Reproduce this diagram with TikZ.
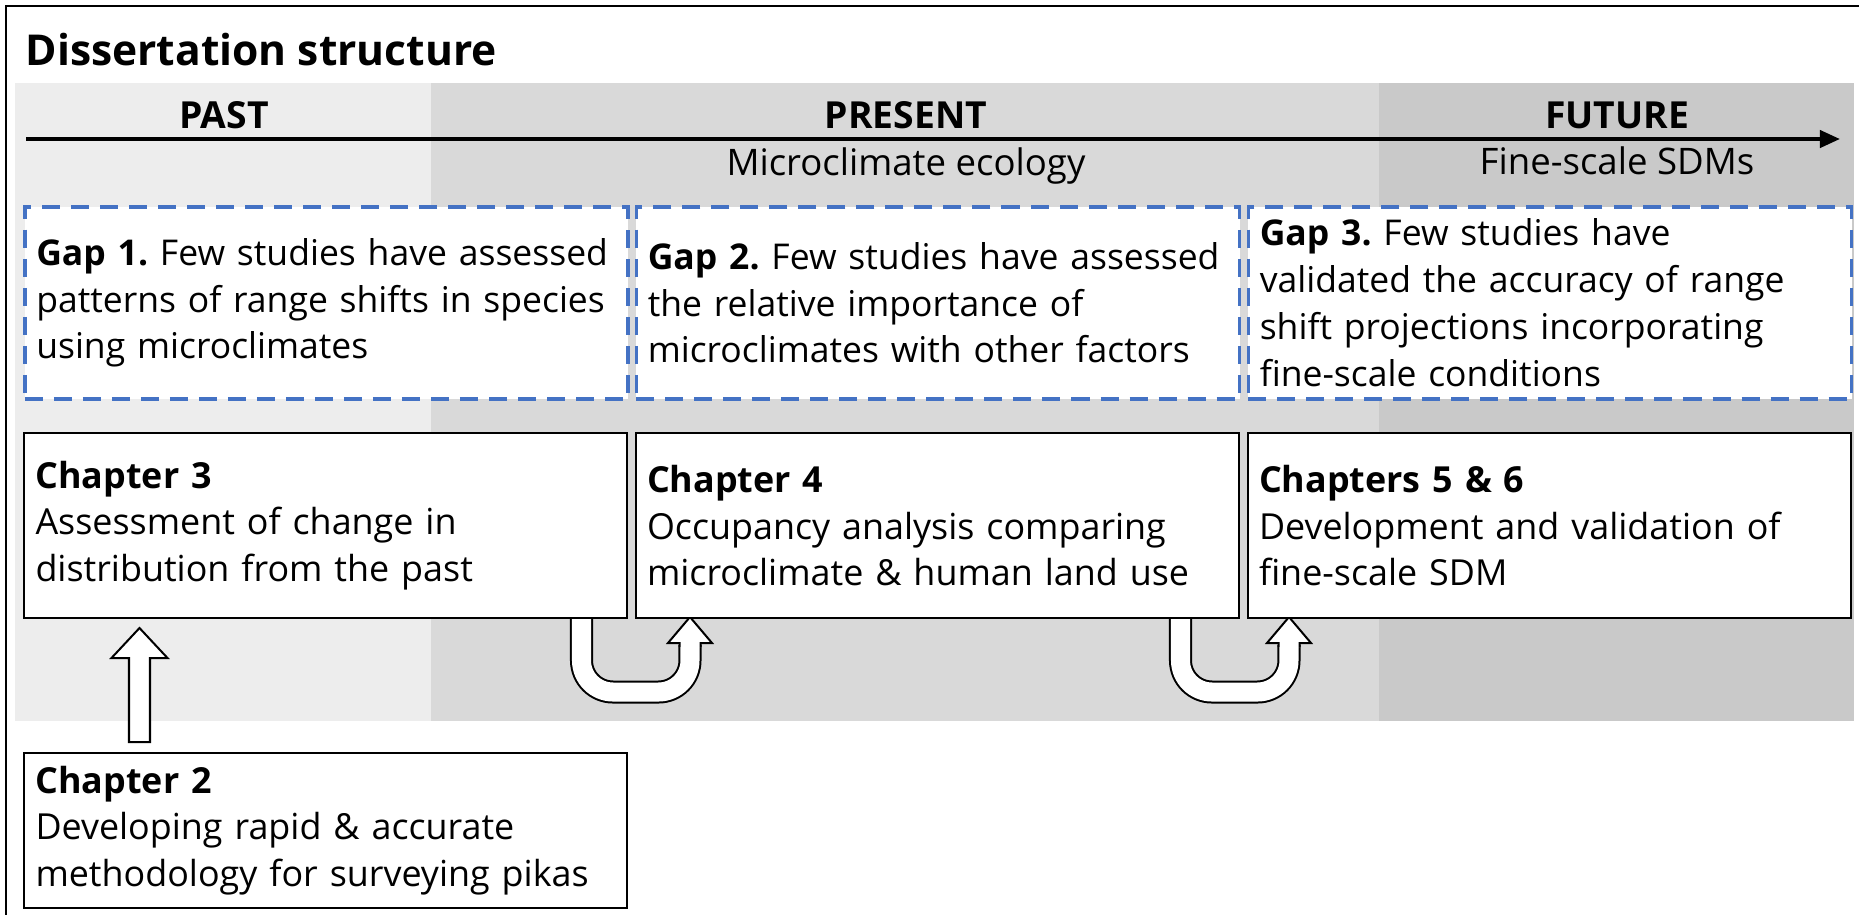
\documentclass[tikz,border=0pt]{standalone}
\usepackage{fontspec}
\setmainfont{Open Sans}
\usetikzlibrary{calc,arrows.meta}
\definecolor{pastgray}{HTML}{EDEDED}
\definecolor{presentgray}{HTML}{D9D9D9}
\definecolor{futuregray}{HTML}{C9C9C9}
\definecolor{gapblue}{HTML}{4472C4}
\frenchspacing

\begin{document}
\begin{tikzpicture}[x=0.01cm, y=-0.01cm]
    \tikzstyle{gapbox}=[draw=gapblue, line width=0.035cm, dash pattern=on 0.18cm off 0.11cm, fill=white, anchor=north west, text width=5.8cm, inner xsep=0.115cm, inner ysep=0pt, minimum height=1.92cm, align=left, font=\fontsize{10.1pt}{13.3pt}\selectfont]
    \tikzstyle{chapbox}=[draw=black, line width=0.02cm, fill=white, anchor=north west, text width=5.8cm, inner xsep=0.115cm, inner ysep=0pt, minimum height=1.85cm, align=left, font=\fontsize{10.2pt}{13.2pt}\selectfont]
    \tikzstyle{era}=[anchor=base, font=\bfseries\fontsize{10.6pt}{12pt}\selectfont]
    \tikzstyle{theme}=[anchor=base, font=\fontsize{10.4pt}{12pt}\selectfont]
    \tikzstyle{blockarrow}=[draw=black, fill=white, line width=0.02cm]
    \tikzstyle{ubend}=[double=white, double distance=0.19cm, line width=0.02cm, rounded corners=0.315cm]

    \useasboundingbox (0,0) rectangle (1859,914);
    \draw[line width=0.015cm] (6,6) rectangle (1875,930);

    % time bands
    \fill[pastgray] (15,83) rectangle (431,721);
    \fill[presentgray] (431,83) rectangle (1379,721);
    \fill[futuregray] (1379,83) rectangle (1854,721);

    \node at (25,65) (title) [anchor=base west, inner sep=0pt, font=\bfseries\fontsize{12.1pt}{15pt}\selectfont] {Dissertation structure};

    \coordinate (tstart) at (26,139);
    \coordinate (tend) at (1840,139);
    \draw[line width=0.04cm, -{Triangle[length=0.2cm, width=0.17cm]}] (tstart) -- (tend);

    \node at (224,128) (past) [era] {PAST};
    \node at (906,128) (present) [era] {PRESENT};
    \node at (1617,128) (future) [era] {FUTURE};
    \node at (906,175) (presenttheme) [theme] {Microclimate ecology};
    \node at (1617,174) (futuretheme) [theme] {Fine-scale SDMs};

    \node at (23,205) (gapone) [gapbox] {\textbf{Gap 1.} Few studies have assessed\\patterns of range shifts in species\\using microclimates};
    \node at (634.5,205) (gaptwo) [gapbox] {\textbf{Gap 2.} Few studies have assessed\\the relative importance of\\microclimates with other factors};
    \node at (1246.5,205) (gapthree) [gapbox] {\textbf{Gap 3.} Few studies have\\validated the accuracy of range\\shift projections incorporating\\fine-scale conditions};

    \node at (23,752) (chtwo) [chapbox, minimum height=1.55cm] {\textbf{Chapter 2}\\Developing rapid \& accurate\\methodology for surveying pikas};
    \path (23,432) coordinate (chthreenw) (634.5,432) coordinate (chfournw) (1246.5,432) coordinate (chfivesixnw);

    % arrows go under the chapter boxes
    \coordinate (upbot) at ($(chtwo.north west)+(116.5,-10)$);
    \coordinate (uptop) at ($(chthreenw)+(116.5,196)$);
    \filldraw[blockarrow] ($(upbot)+(-10.5,0)$) -- ++(0,-84) -- ++(-17.5,0) -- (uptop) -- ++(28,30) -- ++(-17.5,0) -- ++(0,84) -- cycle;

    \coordinate (uonestart) at ($(chthreenw)+(558.5,185)$);
    \coordinate (uoneend) at ($(chfournw)+(55.5,185)$);
    \draw[ubend] (uonestart) -- ++(0,75) -| ($(uoneend)+(0,28)$);
    \filldraw[blockarrow] ($(uoneend)+(-10.5,30)$) -- ++(0,-4) -- ++(-11.5,0) -- (uoneend) -- ++(22,26) -- ++(-11.5,0) -- ++(0,4);

    \coordinate (utwostart) at ($(chfournw)+(546,185)$);
    \coordinate (utwoend) at ($(chfivesixnw)+(42.5,185)$);
    \draw[ubend] (utwostart) -- ++(0,75) -| ($(utwoend)+(0,28)$);
    \filldraw[blockarrow] ($(utwoend)+(-10.5,30)$) -- ++(0,-4) -- ++(-11.5,0) -- (utwoend) -- ++(22,26) -- ++(-11.5,0) -- ++(0,4);

    \node at (chthreenw) (chthree) [chapbox] {\textbf{Chapter 3}\\Assessment of change in\\distribution from the past};
    \node at (chfournw) (chfour) [chapbox] {\textbf{Chapter 4}\\Occupancy analysis comparing\\microclimate \& human land use};
    \node at (chfivesixnw) (chfivesix) [chapbox] {\textbf{Chapters 5 \& 6}\\Development and validation of\\fine-scale SDM};

\end{tikzpicture}
\end{document}
